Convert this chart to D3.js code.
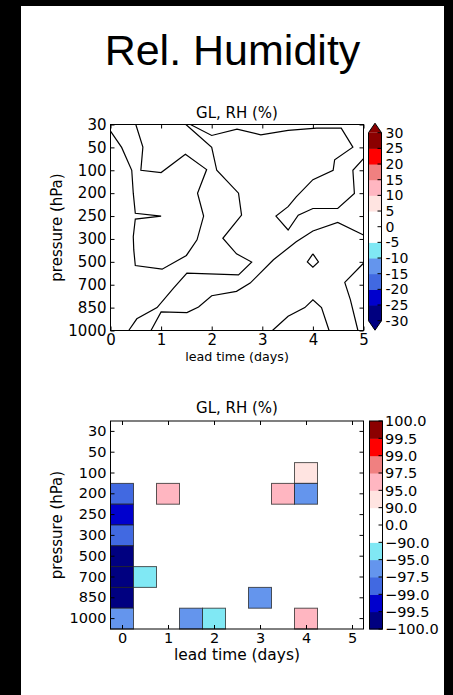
<!DOCTYPE html>
<html><head><meta charset="utf-8">
<script src="https://cdn.jsdelivr.net/npm/d3@7"></script>
<style>
body{margin:0;background:#000;}
svg{display:block;}
text{font-family:"DejaVu Sans",sans-serif;fill:#000;}
</style>
</head><body>
<svg id="c" width="453" height="695"></svg>
<script>
// ---------------- data ----------------
const mainTitle = "Rel. Humidity";
const panelTitle = "GL, RH (%)";
const levels = ["30","50","100","200","250","300","500","700","850","1000"];
const leadTicks = [0,1,2,3,4,5];
const binColors = ["#000080","#0000cd","#4169e1","#6495ed","#80e8f4","#ffffff","#ffffff","#ffe4e1","#ffb6c1","#f08080","#ff0000","#8b0000"];
const topBounds = [-30,-25,-20,-15,-10,-5,0,5,10,15,20,25,30];
const botBounds = [-100,-99.5,-99,-97.5,-95,-90,0,90,95,97.5,99,99.5,100];

// contour lines of the upper panel: [lead time (days), pressure-level index]
const contourA = [[0,0.29],[0.22,1.0],[0.42,2.0],[0.45,3.0],[0.49,3.88],[1.0,4.0],[0.49,4.13],[0.45,4.9],[0.46,5.48],[0.49,6.16],[1.02,6.32],[1.5,5.72],[1.71,5.04],[1.84,4.0],[1.72,3.0],[1.9,1.97],[1.48,1.3],[1.0,2.1],[0.6,2.0],[0.64,0.99],[0.5,0]];
const contourB = [[1.49,0],[2.0,1.0],[2.1,2.0],[2.53,3.0],[2.59,3.96],[2.22,4.97],[2.49,5.65],[2.79,6.01],[2.53,6.57],[1.51,6.49],[1.25,7.14],[0.92,8.0],[0.52,8.49],[0.36,9.0]];
const contourC = [[1.58,0],[2.0,0.48],[2.5,0.2],[2.97,0.45],[3.51,0.26],[4.07,0.16],[4.56,0.16],[4.79,0.99],[4.43,1.54],[4.4,2.0],[4.0,2.41],[3.67,3.16],[3.51,3.59],[3.27,4.0],[3.51,4.61],[3.71,3.96],[4.0,3.67],[4.49,3.67],[4.82,3.01],[4.79,2.0],[5.0,1.49]];
const contourD = [[0.8,9],[1.0,8.19],[1.51,8.22],[1.74,7.97],[2.0,7.48],[2.49,7.29],[2.76,6.93],[3.22,5.91],[3.67,5.12],[4.0,4.65],[4.49,4.28],[5.0,4.83]];
const contourE = [[4.0,5.65],[4.11,6.0],[4.0,6.23],[3.89,6.0],[4.0,5.65]];
const contourF = [[3.2,9],[3.51,8.38],[3.84,8.0],[4.0,7.66],[4.17,8.0],[4.32,9]];
const contourG = [[5.0,6.06],[4.63,6.9],[4.74,7.65],[4.89,9]];
const contourLines = [contourA,contourB,contourC,contourD,contourE,contourF,contourG];

// lower panel cells
const cellLead  = [0,0,0,0,0,0,0,0.5,1,1.5,2,3,3.5,4,4,4];
const cellLevel = ["200","250","300","500","700","850","1000","700","200","1000","1000","850","200","100","200","1000"];
const cellValue = [-98,-99.2,-98,-99.8,-99.8,-99.8,-96,-92,96,-96,-92,-96,96,92,-96,96];

// ---------------- drawing ----------------
const svg = d3.select("#c");
svg.append("rect").attr("x",21).attr("y",6).attr("width",423).attr("height",689).attr("fill","#fff");
svg.append("text").attr("x",232.5).attr("y",65).attr("text-anchor","middle")
  .style("font-family","'Liberation Sans',Arial,sans-serif").style("font-size","43px").text(mainTitle);

function drawAxes(g, x, y, x0, x1, y0, y1, fs, xpad, ypad){
  const style = (a, keepText) => {
    a.select(".domain").remove();
    a.selectAll("line").attr("stroke","#000");
    if (keepText) a.selectAll("text").style("font-size",fs+"px").style("font-family","DejaVu Sans").attr("fill","#000");
    else a.selectAll("text").remove();
  };
  style(g.append("g").attr("transform",`translate(0,${y1})`).call(d3.axisBottom(x).tickValues(leadTicks).tickSize(-4).tickPadding(xpad).tickFormat(d3.format("d"))), true);
  style(g.append("g").attr("transform",`translate(0,${y0})`).call(d3.axisTop(x).tickValues(leadTicks).tickSize(-4)), false);
  style(g.append("g").attr("transform",`translate(${x0},0)`).call(d3.axisLeft(y).tickSize(-4).tickPadding(ypad)), true);
  style(g.append("g").attr("transform",`translate(${x1},0)`).call(d3.axisRight(y).tickSize(-4)), false);
  g.append("rect").attr("x",x0).attr("y",y0).attr("width",x1-x0).attr("height",y1-y0)
    .attr("fill","none").attr("stroke","#000").attr("stroke-width",1);
}

// ---- upper panel ----
const tX0=110.5, tX1=363.5, tY0=124.5, tY1=330.5;
const xT = d3.scaleLinear().domain([0,5]).range([tX0,tX1]);
const yT = d3.scalePoint().domain(levels).range([tY0,tY1]);
const yTi = d3.scaleLinear().domain([0,levels.length-1]).range([tY0,tY1]);
const gT = svg.append("g");
const line = d3.line().x(d=>xT(d[0])).y(d=>yTi(d[1]));
gT.selectAll("path.ct").data(contourLines).join("path").attr("class","ct")
  .attr("d",line).attr("fill","none").attr("stroke","#000").attr("stroke-width",1.2).attr("stroke-linejoin","miter");
drawAxes(gT, xT, yT, tX0, tX1, tY0, tY1, 15, 4, 4);
gT.append("text").attr("x",(tX0+tX1)/2).attr("y",118).attr("text-anchor","middle").style("font-size","15px").text(panelTitle);
gT.append("text").attr("x",(tX0+tX1)/2).attr("y",360.5).attr("text-anchor","middle").style("font-size","12.7px").text("lead time (days)");
gT.append("text").attr("transform",`translate(62,${(tY0+tY1)/2}) rotate(-90)`).attr("text-anchor","middle").style("font-size","15px").text("pressure (hPa)");

// upper colorbar (extend both)
const topColor = d3.scaleThreshold().domain(topBounds.slice(1,-1)).range(binColors);
const cbx0=368.5, cbx1=381.5;
const yC1 = d3.scaleLinear().domain([-30,30]).range([320.7,132.7]);
const gC1 = svg.append("g");
gC1.selectAll("rect").data(d3.range(12)).join("rect")
  .attr("x",cbx0).attr("width",cbx1-cbx0)
  .attr("y",i=>yC1(topBounds[i+1])).attr("height",i=>yC1(topBounds[i])-yC1(topBounds[i+1])+0.5)
  .attr("fill",i=>topColor((topBounds[i]+topBounds[i+1])/2));
const cmid=(cbx0+cbx1)/2;
gC1.append("path").attr("d",`M${cbx0},${yC1(30)}L${cmid},${yC1(30)-9.5}L${cbx1},${yC1(30)}Z`).attr("fill",topColor(35));
gC1.append("path").attr("d",`M${cbx0},${yC1(-30)}L${cmid},${yC1(-30)+9.5}L${cbx1},${yC1(-30)}Z`).attr("fill",topColor(-35));
gC1.append("path").attr("d",`M${cbx0},${yC1(30)}L${cmid},${yC1(30)-9.5}L${cbx1},${yC1(30)}L${cbx1},${yC1(-30)}L${cmid},${yC1(-30)+9.5}L${cbx0},${yC1(-30)}Z`)
  .attr("fill","none").attr("stroke","#000").attr("stroke-width",1);
gC1.selectAll("line.tk").data(topBounds).join("line").attr("class","tk")
  .attr("x1",cbx1-4).attr("x2",cbx1).attr("y1",d=>yC1(d)).attr("y2",d=>yC1(d)).attr("stroke","#000");
gC1.selectAll("text").data(topBounds).join("text")
  .attr("x",385.5).attr("y",d=>yC1(d)).attr("dy","0.36em").style("font-size","14px").text(d=>String(d));

// ---- lower panel ----
const bX0=110.5, bX1=363.5, bY0=421, bY1=629;
const xB = d3.scaleLinear().domain([-0.25,5.25]).range([bX0,bX1]);
const yB = d3.scaleBand().domain(levels).range([bY0,bY1]);
const botColor = d3.scaleThreshold().domain(botBounds.slice(1,-1)).range(binColors);
const gB = svg.append("g");
gB.selectAll("rect.cell").data(d3.range(cellLead.length)).join("rect").attr("class","cell")
  .attr("x",i=>xB(cellLead[i]-0.25)).attr("width",xB(0.5)-xB(0))
  .attr("y",i=>yB(cellLevel[i])).attr("height",yB.bandwidth())
  .attr("fill",i=>botColor(cellValue[i])).attr("stroke","#222").attr("stroke-opacity",0.75).attr("stroke-width",1);
drawAxes(gB, xB, yB, bX0, bX1, bY0, bY1, 14.5, 4, 4);
gB.append("text").attr("x",(bX0+bX1)/2).attr("y",413).attr("text-anchor","middle").style("font-size","15px").text(panelTitle);
gB.append("text").attr("x",(bX0+bX1)/2).attr("y",660).attr("text-anchor","middle").style("font-size","15.4px").text("lead time (days)");
gB.append("text").attr("transform",`translate(62,${(bY0+bY1)/2}) rotate(-90)`).attr("text-anchor","middle").style("font-size","15px").text("pressure (hPa)");

// lower colorbar
const yC2 = d3.scalePoint().domain(botBounds).range([629,421]);
const c2x0=369.5, c2x1=382.5;
const gC2 = svg.append("g");
gC2.selectAll("rect").data(d3.range(12)).join("rect")
  .attr("x",c2x0).attr("width",c2x1-c2x0)
  .attr("y",i=>yC2(botBounds[i+1])).attr("height",i=>yC2(botBounds[i])-yC2(botBounds[i+1])+0.5)
  .attr("fill",i=>botColor((botBounds[i]+botBounds[i+1])/2));
gC2.append("rect").attr("x",c2x0).attr("y",421).attr("width",c2x1-c2x0).attr("height",208)
  .attr("fill","none").attr("stroke","#000");
gC2.selectAll("line.tk").data(botBounds).join("line").attr("class","tk")
  .attr("x1",c2x1-4).attr("x2",c2x1).attr("y1",d=>yC2(d)).attr("y2",d=>yC2(d)).attr("stroke","#000");
gC2.selectAll("text").data(botBounds).join("text")
  .attr("x",385).attr("y",d=>yC2(d)).attr("dy","0.36em").style("font-size","14.5px").text(d=>d3.format(".1f")(d));
</script>
</body></html>
